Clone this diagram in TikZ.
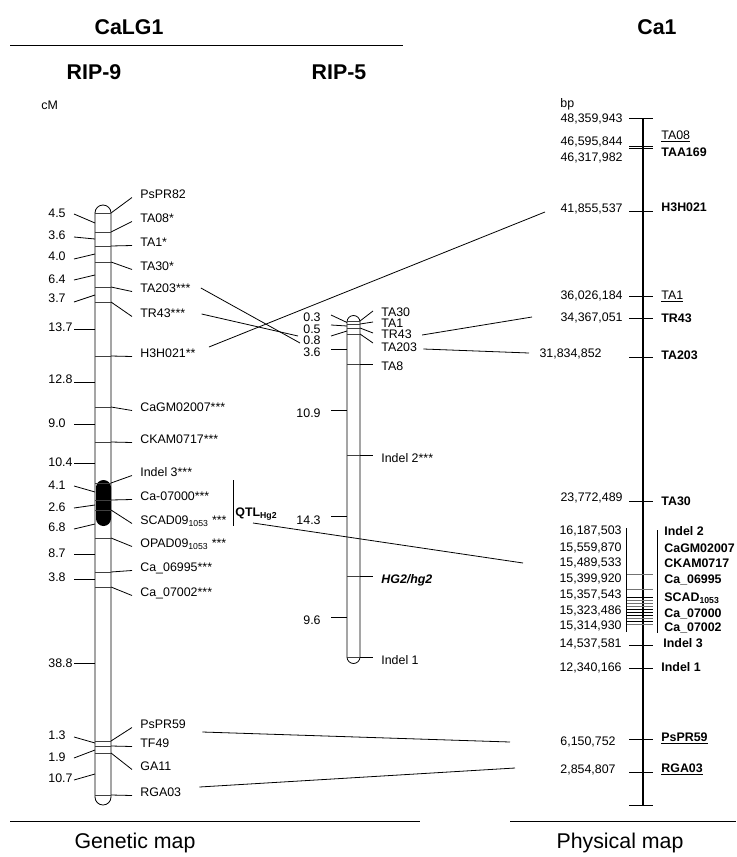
\documentclass[tikz,border=0pt]{standalone}
\usepackage{fontspec}
\setmainfont{Liberation Sans}
\begin{document}
\begin{tikzpicture}[x=0.75pt,y=-0.75pt,line width=0.6pt,
  lab/.style={inner sep=0pt,font=\fontsize{9.3}{11}\selectfont,text height=6.7pt,text depth=0pt},
  blab/.style={lab,font=\fontsize{9.3}{11}\selectfont\bfseries},
  ttl/.style={inner sep=0pt,font=\fontsize{16}{19}\selectfont\bfseries},
  captxt/.style={inner sep=0pt,font=\fontsize{16}{19}\selectfont},
  mk/.style={draw=black!75},
  lnk/.style={draw=black,line width=0.6pt}]
\useasboundingbox (0,0) rectangle (736,857);
% titles
\node[ttl] (tcalg) at (129,27) {CaLG1};
\node[ttl] (tca1) at (657,27) {Ca1};
\node[ttl] (trip9) at (94,72) {RIP-9};
\node[ttl] (trip5) at (339,72) {RIP-5};
\node[lab,anchor=west] (tcm) at (41,105) {cM};
\node[lab,anchor=west] (tbp) at (560,103) {bp};
\draw (10,45) -- (403,45);
\draw (10,821) -- (420,821);
\draw (510,821) -- (736,821);
\node[captxt] (tgen) at (135,843) {Genetic map};
\node[captxt] (tphy) at (620,843) {Physical map};
% ---------------- RIP-9 chromosome
\draw[rounded corners=6pt] (95,205) rectangle (111,805);
\fill[rounded corners=5.6pt] (96,480) rectangle (111,526);
\foreach \n/\m/\l/\t in {pspr82/213/194/PsPR82, ta08/232/218/TA08*, ta1/246/242/TA1*,
  ta30/262/266/TA30*, ta203/287/288/TA203***, tr43/302/313/TR43***, h3h021/356/353/H3H021**,
  cagm/407/407/CaGM02007***, ckam/442/439/CKAM0717***, indel3/483/472/Indel 3***,
  ca07000/500/496/Ca-07000***, scad/510/520/{SCAD09\textsubscript{1053} ***},
  opad/538/543/{OPAD09\textsubscript{1053} ***}, ca06995/572/567/Ca\_06995***,
  ca07002/587/592/Ca\_07002***, pspr59/741/724/PsPR59, tf49/746/743/TF49,
  ga11/753/766/GA11, rga03/795/792/RGA03} {
  \draw[mk] (95,\m) -- (111,\m);
  \node[lab,anchor=west] (r9\n) at (140,\l) {\t};
  \draw (111,\m) -- ([shift={(-8,3.5)}]r9\n.west);
}
\foreach \n/\ty/\ly/\ey/\t in {a/213/214/223/4.5, b/235/237/239/3.6, c/256/259/254/4.0,
  d/279/280/275/6.4, e/298/302/295/3.7, f/327/329/329/13.7, g/379/382/382/12.8,
  h/423/424/424/9.0, i/462/463/463/10.4, j/485/486/492/4.1, k/507/508/505/2.6,
  l/527/529/524/6.8, m/553/554/554/8.7, n/577/579/579/3.8, o/663/663/663/38.8,
  p/735/737/743/1.3, q/757/758/750/1.9, r/778/780/774/10.7} {
  \node[lab,anchor=west] (d9\n) at (48,\ty) {\t};
  \draw (74,\ly) -- (95,\ey);
}
% QTL
\draw (233,480) -- (233,526);
\node[blab,anchor=west] (qtl) at (235,512) {QTL\textsubscript{Hg2}};
% ---------------- RIP-5 chromosome
\draw[rounded corners=4.875pt] (347,315.5) rectangle (360,663.5);
\foreach \n/\m/\l/\e/\t in {ta30/321/312/311/TA30, ta1/324/323/322/TA1, tr43/328/334/333/TR43,
  ta203/334/347/343/TA203, ta8/364/366/364/TA8, indel2/455/458/455/Indel 2***,
  indel1/657/660/657/Indel 1} {
  \draw[mk] (347,\m) -- (360,\m);
  \node[lab,anchor=west] (r5\n) at (381,\l) {\t};
  \draw (360,\m) -- (373,\e);
}
\draw[mk] (347,576) -- (360,576);
\node[lab,anchor=west,font=\fontsize{9.3}{11}\selectfont\bfseries\itshape] (r5hg2) at (381,579) {HG2/hg2};
\draw (360,576) -- (373,576);
\foreach \n/\ty/\ly/\ey/\t in {a/317.5/315/322.5/0.3, b/329/325/326/0.5, c/340.5/336/331/0.8,
  d/352/349/349/3.6, e/413/410/410/10.9, f/520/516/516/14.3, g/620/617/617/9.6} {
  \node[lab,anchor=east] (d5\n) at (321,\ty) {\t};
  \draw (331,\ly) -- (347,\ey);
}
% ---------------- Physical map
\draw[line width=0.9pt] (643,118) -- (643,805);
\foreach \y in {118,146,148,211,296,318,357,501,645,668,739,772,805}
  \draw (629,\y) -- (653,\y);
\foreach \y/\c in {574/black!55,589/black!55,597/black,600/black!55,603/black!55,606/black!55,
  609/black,612/black,615/black,618/black!55,621/black,624/black!55}
  \draw[draw=\c] (627,\y) -- (653,\y);
\draw (626,528) -- (626,632);
\draw (657,530) -- (657,633);
\foreach \n/\x/\y/\t in {a/623/118/{48,359,943}, b/623/141/{46,595,844}, c/623/157/{46,317,982},
  d/623/208/{41,855,537}, e/623/295/{36,026,184}, f/623/317/{34,367,051}, g/602/353/{31,834,852},
  h/623/497/{23,772,489}, i/622/530/{16,187,503}, j/622/547/{15,559,870}, k/622/562/{15,489,533},
  l/622/578/{15,399,920}, m/622/594/{15,357,543}, n/622/610/{15,323,486}, o/622/625/{15,314,930},
  p/622/643/{14,537,581}, q/622/667/{12,340,166}, r/616/741/{6,150,752}, s/616/769/{2,854,807}}
  \node[lab,anchor=east] (ph\n) at (\x,\y) {\t};
\node[lab,anchor=west] (pta08) at (661,135) {\underline{TA08}};
\node[blab,anchor=west] (ptaa169) at (661,152) {TAA169};
\node[blab,anchor=west] (ph3h021) at (661,207) {H3H021};
\node[lab,anchor=west] (pta1) at (661,295) {\underline{TA1}};
\node[blab,anchor=west] (ptr43) at (661,318) {TR43};
\node[blab,anchor=west] (pta203) at (661,355) {TA203};
\node[blab,anchor=west] (pta30) at (661,501) {TA30};
\foreach \n/\y/\t in {indel2/531/Indel 2, cagm/548/CaGM02007, ckam/563/CKAM0717,
  ca06995/579/Ca\_06995, scad/597/{SCAD\textsubscript{1053}}, ca07000/613/Ca\_07000,
  ca07002/627/Ca\_07002}
  \node[blab,anchor=west] (p\n) at (664,\y) {\t};
\node[blab,anchor=west] (pindel3) at (663,643) {Indel 3};
\node[blab,anchor=west] (pindel1) at (661,667) {Indel 1};
\node[blab,anchor=west] (ppspr59) at (661,737) {\underline{PsPR59}};
\node[blab,anchor=west] (prga03) at (661,768) {\underline{RGA03}};
% ---------------- links
\coordinate (e1) at (300,343);
\coordinate (e2) at (298,336);
\coordinate (e3) at (545,212);
\coordinate (e4) at (532,317);
\coordinate (e5) at (529,353);
\coordinate (e6) at (523,563);
\coordinate (e7) at (510,742);
\coordinate (e8) at (515,768);
\draw[lnk] ([shift={(10,0)}]r9ta203.east) -- (e1);
\draw[lnk] ([shift={(16,1)}]r9tr43.east) -- (e2);
\draw[lnk] ([shift={(13,-6)}]r9h3h021.east) -- (e3);
\draw[lnk] ([shift={(10,1)}]r5tr43.east) -- (e4);
\draw[lnk] ([shift={(6,2)}]r5ta203.east) -- (e5);
\draw[lnk] ([shift={(18,11)}]qtl.west) -- (e6);
\draw[lnk] ([shift={(16,8)}]r9pspr59.east) -- (e7);
\draw[lnk] ([shift={(18,-5)}]r9rga03.east) -- (e8);
\end{tikzpicture}
\end{document}
